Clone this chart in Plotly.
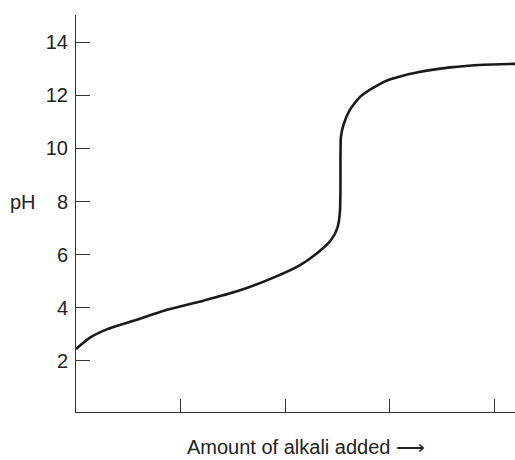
import plotly.graph_objects as go

# titration curve (amount of alkali in tick units, pH)
amount = [0.0, 0.13, 0.30, 0.58, 0.85, 1.22, 1.54, 1.86, 2.14, 2.32, 2.44, 2.50, 2.525, 2.53, 2.53, 2.535,
          2.56, 2.62, 2.72, 2.85, 3.0, 3.26, 3.58, 3.9, 4.2]
ph = [2.45, 2.87, 3.2, 3.55, 3.9, 4.27, 4.62, 5.09, 5.60, 6.10, 6.55, 7.0, 7.6, 8.44, 9.57, 10.45,
      10.9, 11.45, 11.95, 12.3, 12.59, 12.86, 13.05, 13.15, 13.18]

y_ticks = [2, 4, 6, 8, 10, 12, 14]
x_ticks = [1, 2, 3, 4]

font_family = "Liberation Sans, Arial, sans-serif"

fig = go.Figure()

fig.add_trace(go.Scatter(
    x=amount, y=ph,
    mode="lines",
    line=dict(color="#1a1a1a", width=2.6, shape="spline", smoothing=0.6),
    showlegend=False,
    hoverinfo="skip"
))

fig.update_xaxes(
    range=[0, 4.2],
    tickvals=x_ticks,
    showticklabels=False,
    ticks="inside", ticklen=13, tickwidth=1, tickcolor="#333",
    showline=True, linecolor="#333", linewidth=1,
    showgrid=False, zeroline=False, fixedrange=True
)
fig.update_yaxes(
    range=[0.08, 15.02],
    tickvals=y_ticks,
    ticks="inside", ticklen=14, tickwidth=1, tickcolor="#333",
    tickfont=dict(size=20, color="#222", family=font_family),
    ticklabelstandoff=3,
    showline=True, linecolor="#333", linewidth=1,
    showgrid=False, zeroline=False, fixedrange=True
)

# "pH" label sits level with the 8 tick
fig.add_annotation(
    x=-0.155, xref="paper", y=8, yref="y",
    text="pH", showarrow=False, xanchor="left", yanchor="middle",
    font=dict(size=20, color="#222", family=font_family)
)
fig.add_annotation(
    x=0.524, xref="paper", y=-0.088, yref="paper",
    text="Amount of alkali added \u27f6", showarrow=False,
    xanchor="center", yanchor="middle",
    font=dict(size=20, color="#222", family=font_family)
)

fig.update_layout(
    width=515, height=460,
    margin=dict(l=76, r=0, t=15, b=48),
    plot_bgcolor="white",
    paper_bgcolor="white",
    font=dict(family=font_family)
)

# drop the default 8px body margin so the figure fills the window
fig.write_html("out.html", config={"displayModeBar": False},
               post_script="document.body.style.margin='0';")
